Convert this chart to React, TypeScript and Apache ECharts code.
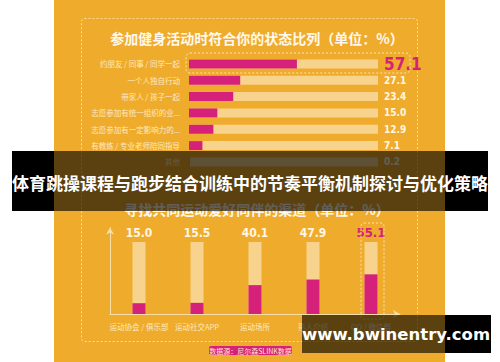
import React, { useEffect, useRef } from "react";
import * as echarts from "echarts";

const topCategories = [
  "约朋友 / 同事 / 同学一起",
  "一个人独自行动",
  "带家人 / 孩子一起",
  "志愿参加有统一组织的业...",
  "志愿参加有一定影响力的...",
  "有教练 / 专业老师陪同指导",
  "其他",
];
const topValues = [57.1, 27.1, 23.4, 15.0, 12.9, 7.1, 0.2];
const topTrack = [100, 100, 100, 100, 100, 100, 100];

const bottomCategories = ["运动协会 / 俱乐部", "运动社交APP", "运动场所", "熟人介绍", "QQ / 微信群"];
const bottomValues = [15.0, 15.5, 40.1, 47.9, 55.1];
const bottomTrack = [100, 100, 100, 100, 100];

const title1 = "参加健身活动时符合你的状态比列（单位：%）";
const title2 = "寻找共同运动爱好同伴的渠道（单位：%）";
const bannerText = "体育跳操课程与跑步结合训练中的节奏平衡机制探讨与优化策略";
const watermark = "www.bwinentry.com";
const sourceText = "数据源：尼尔森SLINK数据";

const ORANGE = "#EFAC2C";
const PINK = "#D6217B";
const TRACK = "#F8D38E";
const CREAM = "#FDE8C2";
const CJK = "'Noto Sans CJK SC', 'Noto Sans', sans-serif";
const NUM = "'Liberation Sans Narrow', 'DejaVu Sans Condensed', 'DejaVu Sans', sans-serif";

export default function App() {
  const ref = useRef<HTMLDivElement>(null);
  useEffect(() => {
    if (!ref.current) return;
    const chart = echarts.init(ref.current, null, { renderer: "svg" });
    const hl = topValues.indexOf(Math.max(...topValues));
    const hlB = bottomValues.indexOf(Math.max(...bottomValues));
    chart.setOption({
      animation: false,
      backgroundColor: "#ffffff",
      textStyle: { fontFamily: CJK },
      grid: [
        { left: 189, top: 55.8, width: 189, height: 114.3 },
        { left: 110, top: 227.6, width: 290, height: 86.4 },
      ],
      xAxis: [
        { type: "value", gridIndex: 0, min: 0, max: 100, show: false },
        {
          type: "category",
          gridIndex: 1,
          data: bottomCategories,
          axisLine: {
            show: true,
            symbol: ["none", "arrow"],
            symbolSize: [6, 7],
            lineStyle: { color: "#F9DDA6", width: 1 },
          },
          axisTick: { show: false },
          axisLabel: { color: CREAM, fontSize: 7.5, margin: 9, interval: 0, fontFamily: CJK },
        },
      ],
      yAxis: [
        {
          type: "category",
          gridIndex: 0,
          inverse: true,
          data: topCategories,
          axisLine: { show: false },
          axisTick: { show: false },
          axisLabel: { color: CREAM, fontSize: 7.5, margin: 9, interval: 0, fontFamily: CJK },
        },
        {
          type: "category",
          gridIndex: 0,
          inverse: true,
          position: "right",
          data: topValues.map((v) => v.toFixed(1)),
          axisLine: { show: false },
          axisTick: { show: false },
          axisLabel: {
            margin: 6,
            align: "left",
            interval: 0,
            formatter: (v: string, i: number) => (i === hl ? `{h|${v}}` : `{n|${v}}`),
            rich: {
              h: { color: PINK, fontSize: 17, fontWeight: "bold", fontFamily: NUM },
              n: { color: "#FFF6E6", fontSize: 10, fontWeight: "bold", fontFamily: NUM },
            },
          },
        },
        {
          type: "value",
          gridIndex: 1,
          min: 0,
          max: 120,
          axisLine: {
            show: true,
            symbol: ["none", "arrow"],
            symbolSize: [6, 7],
            lineStyle: { color: "#F9DDA6", width: 1 },
          },
          axisTick: { show: false },
          axisLabel: { show: false },
          splitLine: { show: false },
        },
      ],
      series: [
        {
          type: "bar",
          xAxisIndex: 0,
          yAxisIndex: 0,
          data: topTrack,
          barWidth: 9,
          itemStyle: { color: TRACK },
          silent: true,
          z: 2,
        },
        {
          type: "bar",
          xAxisIndex: 0,
          yAxisIndex: 0,
          data: topValues,
          barWidth: 9,
          barGap: "-100%",
          itemStyle: { color: PINK },
          z: 3,
        },
        {
          type: "bar",
          xAxisIndex: 1,
          yAxisIndex: 2,
          data: bottomTrack,
          barWidth: 13,
          itemStyle: { color: TRACK },
          silent: true,
          z: 2,
          label: {
            show: true,
            position: "top",
            distance: 3,
            formatter: (p: any) =>
              p.dataIndex === hlB
                ? `{h|${bottomValues[p.dataIndex].toFixed(1)}}`
                : `{n|${bottomValues[p.dataIndex].toFixed(1)}}`,
            rich: {
              h: { color: PINK, fontSize: 13, fontWeight: "bold", fontFamily: NUM },
              n: { color: "#FFF6E6", fontSize: 12, fontWeight: "bold", fontFamily: NUM },
            },
          },
        },
        {
          type: "bar",
          xAxisIndex: 1,
          yAxisIndex: 2,
          data: bottomValues,
          barWidth: 13,
          barGap: "-100%",
          itemStyle: { color: PINK },
          z: 3,
        },
      ],
      graphic: [
        { type: "rect", z: -10, silent: true, shape: { x: 54, y: 0, width: 391, height: 362 }, style: { fill: ORANGE } },
        {
          type: "rect",
          z: -5,
          silent: true,
          shape: { x: 81.5, y: 18.5, width: 336, height: 323, r: 3 },
          style: { fill: "none", stroke: "rgba(253,232,194,0.8)", lineWidth: 1, lineDash: [2, 2] },
        },
        {
          type: "text",
          z: 5,
          x: 257,
          y: 38,
          style: { text: title1, fill: "#FFF8EC", fontSize: 14, fontWeight: "bold", fontFamily: CJK, align: "center", verticalAlign: "middle" },
        },
        {
          type: "text",
          z: 5,
          x: 257,
          y: 209,
          style: { text: title2, fill: "#FFF8EC", fontSize: 14, fontWeight: "bold", fontFamily: CJK, align: "center", verticalAlign: "middle" },
        },
        {
          type: "rect",
          z: 20,
          silent: true,
          shape: { x: 186, y: 53, width: 224, height: 20, r: 4 },
          style: { fill: "none", stroke: "rgba(253,232,194,0.9)", lineWidth: 1, lineDash: [2, 2] },
        },
        {
          type: "rect",
          z: 20,
          silent: true,
          shape: { x: 361, y: 223, width: 23, height: 96, r: 3 },
          style: { fill: "none", stroke: "rgba(253,232,194,0.9)", lineWidth: 1, lineDash: [2, 2] },
        },
        { type: "rect", z: 20, shape: { x: 209, y: 346, width: 83, height: 9, r: 2 }, style: { fill: PINK } },
        {
          type: "text",
          z: 21,
          x: 250.5,
          y: 350.5,
          style: { text: sourceText, fill: CREAM, fontSize: 7, fontFamily: CJK, align: "center", verticalAlign: "middle" },
        },
        // banner overlay
        { type: "rect", z: 100, shape: { x: 54, y: 151, width: 391, height: 60 }, style: { fill: "rgba(0,0,0,0.62)" } },
        { type: "rect", z: 100, shape: { x: 12, y: 151, width: 42, height: 60 }, style: { fill: "#000" } },
        { type: "rect", z: 100, shape: { x: 445, y: 151, width: 43, height: 60 }, style: { fill: "#000" } },
        {
          type: "text",
          z: 101,
          x: 250,
          y: 182,
          style: { text: bannerText, fill: "#ffffff", fontSize: 17, fontWeight: "bold", fontFamily: CJK, align: "center", verticalAlign: "middle" },
        },
        // watermark overlay
        { type: "rect", z: 100, shape: { x: 302, y: 315, width: 143, height: 38 }, style: { fill: "rgba(0,0,0,0.62)" } },
        { type: "rect", z: 100, shape: { x: 445, y: 315, width: 46, height: 38 }, style: { fill: "#000" } },
        {
          type: "text",
          z: 101,
          x: 396,
          y: 334,
          style: { text: watermark, fill: "#ffffff", fontSize: 16.5, fontWeight: "bold", fontFamily: "'DejaVu Sans', sans-serif", align: "center", verticalAlign: "middle" },
        },
      ],
    });
    return () => chart.dispose();
  }, []);
  return <div ref={ref} style={{ position: "fixed", left: 0, top: 0, width: 500, height: 362 }} />;
}
